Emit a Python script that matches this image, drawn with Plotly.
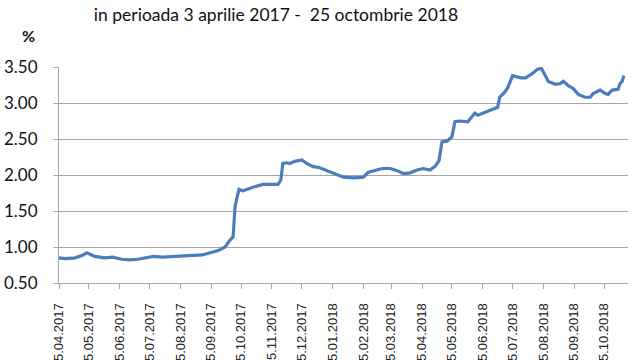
import plotly.graph_objects as go

dates = [
    "2017-04-05", "2017-04-11", "2017-04-21", "2017-04-28", "2017-05-03", "2017-05-11",
    "2017-05-21", "2017-05-29", "2017-06-07", "2017-06-15", "2017-06-23", "2017-06-30",
    "2017-07-09", "2017-07-18", "2017-08-07", "2017-08-13", "2017-08-27", "2017-09-04",
    "2017-09-12", "2017-09-19", "2017-09-23", "2017-09-27", "2017-09-29", "2017-10-01",
    "2017-10-03", "2017-10-07", "2017-10-12", "2017-10-17", "2017-10-27", "2017-11-03",
    "2017-11-11", "2017-11-14", "2017-11-16", "2017-11-20", "2017-11-23", "2017-11-28",
    "2017-12-05", "2017-12-10", "2017-12-16", "2017-12-23", "2017-12-29", "2018-01-07",
    "2018-01-16", "2018-01-26", "2018-02-05", "2018-02-10", "2018-02-15", "2018-02-24",
    "2018-03-04", "2018-03-11", "2018-03-17", "2018-03-24", "2018-03-31", "2018-04-06",
    "2018-04-13", "2018-04-18", "2018-04-22", "2018-04-25", "2018-04-30", "2018-05-05",
    "2018-05-08", "2018-05-13", "2018-05-21", "2018-05-28", "2018-05-31", "2018-06-07",
    "2018-06-15", "2018-06-20", "2018-06-22", "2018-06-27", "2018-06-30", "2018-07-05",
    "2018-07-13", "2018-07-18", "2018-07-25", "2018-07-30", "2018-08-03", "2018-08-06",
    "2018-08-10", "2018-08-17", "2018-08-22", "2018-08-25", "2018-08-30", "2018-09-04",
    "2018-09-09", "2018-09-16", "2018-09-21", "2018-09-24", "2018-10-01", "2018-10-06",
    "2018-10-09", "2018-10-13", "2018-10-19", "2018-10-21", "2018-10-23", "2018-10-25",
]
rates = [
    0.85, 0.84, 0.85, 0.88, 0.92, 0.87,
    0.85, 0.86, 0.83, 0.82, 0.83, 0.85,
    0.87, 0.86, 0.87, 0.88, 0.89, 0.92,
    0.95, 1.00, 1.08, 1.14, 1.56, 1.69,
    1.80, 1.78, 1.81, 1.83, 1.87, 1.87,
    1.87, 1.93, 2.16, 2.17, 2.16, 2.19,
    2.21, 2.16, 2.12, 2.10, 2.07, 2.02,
    1.97, 1.96, 1.97, 2.04, 2.06, 2.09,
    2.09, 2.06, 2.02, 2.03, 2.07, 2.09,
    2.07, 2.12, 2.20, 2.46, 2.47, 2.53,
    2.74, 2.75, 2.74, 2.86, 2.83, 2.87,
    2.91, 2.94, 3.08, 3.15, 3.21, 3.38,
    3.35, 3.35, 3.41, 3.47, 3.48, 3.41,
    3.30, 3.26, 3.27, 3.30, 3.24, 3.20,
    3.12, 3.08, 3.08, 3.13, 3.18, 3.13,
    3.12, 3.18, 3.19, 3.27, 3.30, 3.38,
]

tick_dates = [
    "2017-04-05", "2017-05-05", "2017-06-05", "2017-07-05", "2017-08-05", "2017-09-05",
    "2017-10-05", "2017-11-05", "2017-12-05", "2018-01-05", "2018-02-05", "2018-03-05",
    "2018-04-05", "2018-05-05", "2018-06-05", "2018-07-05", "2018-08-05", "2018-09-05",
    "2018-10-05",
]
tick_labels = [
    "05.04.2017", "05.05.2017", "05.06.2017", "05.07.2017", "05.08.2017", "05.09.2017",
    "05.10.2017", "05.11.2017", "05.12.2017", "05.01.2018", "05.02.2018", "05.03.2018",
    "05.04.2018", "05.05.2018", "05.06.2018", "05.07.2018", "05.08.2018", "05.09.2018",
    "05.10.2018",
]
y_ticks = [0.5, 1.0, 1.5, 2.0, 2.5, 3.0, 3.5]
y_labels = ["0.50", "1.00", "1.50", "2.00", "2.50", "3.00", "3.50"]

title_text = "in perioada 3 aprilie 2017 - \u00a025 octombrie 2018"

fig = go.Figure()
fig.add_trace(go.Scatter(
    x=dates, y=rates, mode="lines",
    line=dict(color="#4A7EBB", width=3.2),
    showlegend=False,
))

grid = "#A6A6A6"
fig.update_layout(
    width=640, height=360,
    margin=dict(l=59, r=12, t=67, b=77, autoexpand=False),
    paper_bgcolor="white", plot_bgcolor="white",
    title=dict(text=title_text, x=276/640, xanchor="center", xref="container",
               y=1 - 15/360, yanchor="middle", yref="container", automargin=False,
               font=dict(family="Lato", size=17.5, color="#111111")),
    xaxis=dict(
        type="date", range=["2017-04-05", "2018-10-29"], automargin=False,
        tickmode="array", tickvals=tick_dates, ticktext=tick_labels,
        tickangle=-90, ticks="outside", ticklen=5, tickcolor=grid,
        showline=True, linecolor=grid, linewidth=1, showgrid=False,
        tickfont=dict(family="Liberation Sans", size=13, color="#222222"),
        ticklabelstandoff=9, zeroline=False,
    ),
    yaxis=dict(
        range=[0.5, 3.5], tickmode="array", tickvals=y_ticks, ticktext=y_labels,
        ticks="outside", ticklen=5, tickcolor=grid, automargin=False,
        showline=True, linecolor=grid, linewidth=1,
        showgrid=True, gridcolor=grid, gridwidth=1,
        tickfont=dict(family="Lato", size=17, color="#111111"),
        ticklabelstandoff=12, zeroline=False,
    ),
    annotations=[dict(
        text="<b>%</b>", xref="paper", yref="paper",
        x=(28 - 59) / 569, y=(283 - 36) / 216, xanchor="center", yanchor="middle",
        showarrow=False, font=dict(family="Lato", size=16, color="#111111"),
    )],
)

fig.write_html("out.html", config={"displayModeBar": False},
               post_script="document.body.style.margin='0';document.body.style.overflow='hidden';")
